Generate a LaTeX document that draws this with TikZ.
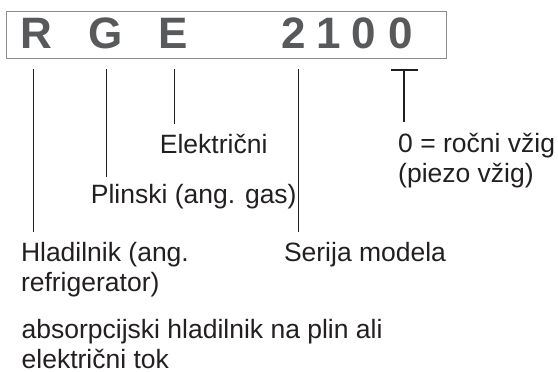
\documentclass[tikz,border=0pt]{standalone}
\usepackage{fontspec}
\setmainfont{Liberation Sans}
\definecolor{lettergray}{HTML}{58595B}
\definecolor{boxgray}{HTML}{8C8C8C}
\definecolor{inkblack}{HTML}{231F20}
\begin{document}
\begin{tikzpicture}[x=1pt,y=-1pt,
  codeletter/.style={anchor=base,inner sep=0pt,text=lettergray,font=\fontsize{44}{44}\selectfont\bfseries},
  label/.style={anchor=base west,inner sep=0pt,text=inkblack,align=left,font=\fontsize{26.5}{30}\selectfont},
  leader/.style={draw=inkblack,line width=1.4pt},
  codebox/.style={draw=boxgray,line width=1pt}]
\useasboundingbox (0,0) rectangle (558,372);
% code box
\draw[codebox] (6.7,11.7) rectangle (446,58.3);
\node[codeletter] (R) at (36.7,48.3) {R};
\node[codeletter] (G) at (105.7,48.3) {G};
\node[codeletter] (E) at (173.3,48.3) {E};
\node[codeletter] (d2) at (294.2,48.3) {2};
\node[codeletter] (d1) at (328.5,48.3) {1};
\node[codeletter] (d0a) at (364,48.3) {0};
\node[codeletter] (d0b) at (400.5,48.3) {0};
% labels (multi-line nodes: base = last line)
\node[label] (elek) at (159.7,153) {Električni};
\node[label] (vzig) at (398,182.5) {0 = ročni vžig\\(piezo vžig)};
\node[label] (plin) at (90.7,203.3) {Plinski (ang. gas)};
\node[label] (hlad) at (20.8,291.5) {Hladilnik (ang.\\refrigerator)};
\node[label] (serija) at (283.8,261.2) {Serija modela};
\node[label] (absorp) at (21.5,368.3) {absorpcijski hladilnik na plin ali\\električni tok};
% leader end points
\coordinate (Rtop) at (33.3,69.3);
\coordinate (Rbot) at (33.3,231.7);
\coordinate (Gtop) at (106.7,69.3);
\coordinate (Gbot) at (106.7,176.7);
\coordinate (Etop) at (174.3,69.3);
\coordinate (Ebot) at (174.3,124);
\coordinate (Stop) at (298.3,69.3);
\coordinate (Sbot) at (298.3,231.7);
\coordinate (Tl) at (391,70);
\coordinate (Tr) at (418.3,70);
\coordinate (Tm) at (404,70);
\coordinate (Tbot) at (404,121.7);
% leaders
\draw[leader] (Rtop) -- (Rbot);
\draw[leader] (Gtop) -- (Gbot);
\draw[leader] (Etop) -- (Ebot);
\draw[leader] (Stop) -- (Sbot);
\draw[leader] (Tl) -- (Tr);
\draw[leader] (Tm) -- (Tbot);
\end{tikzpicture}
\end{document}
